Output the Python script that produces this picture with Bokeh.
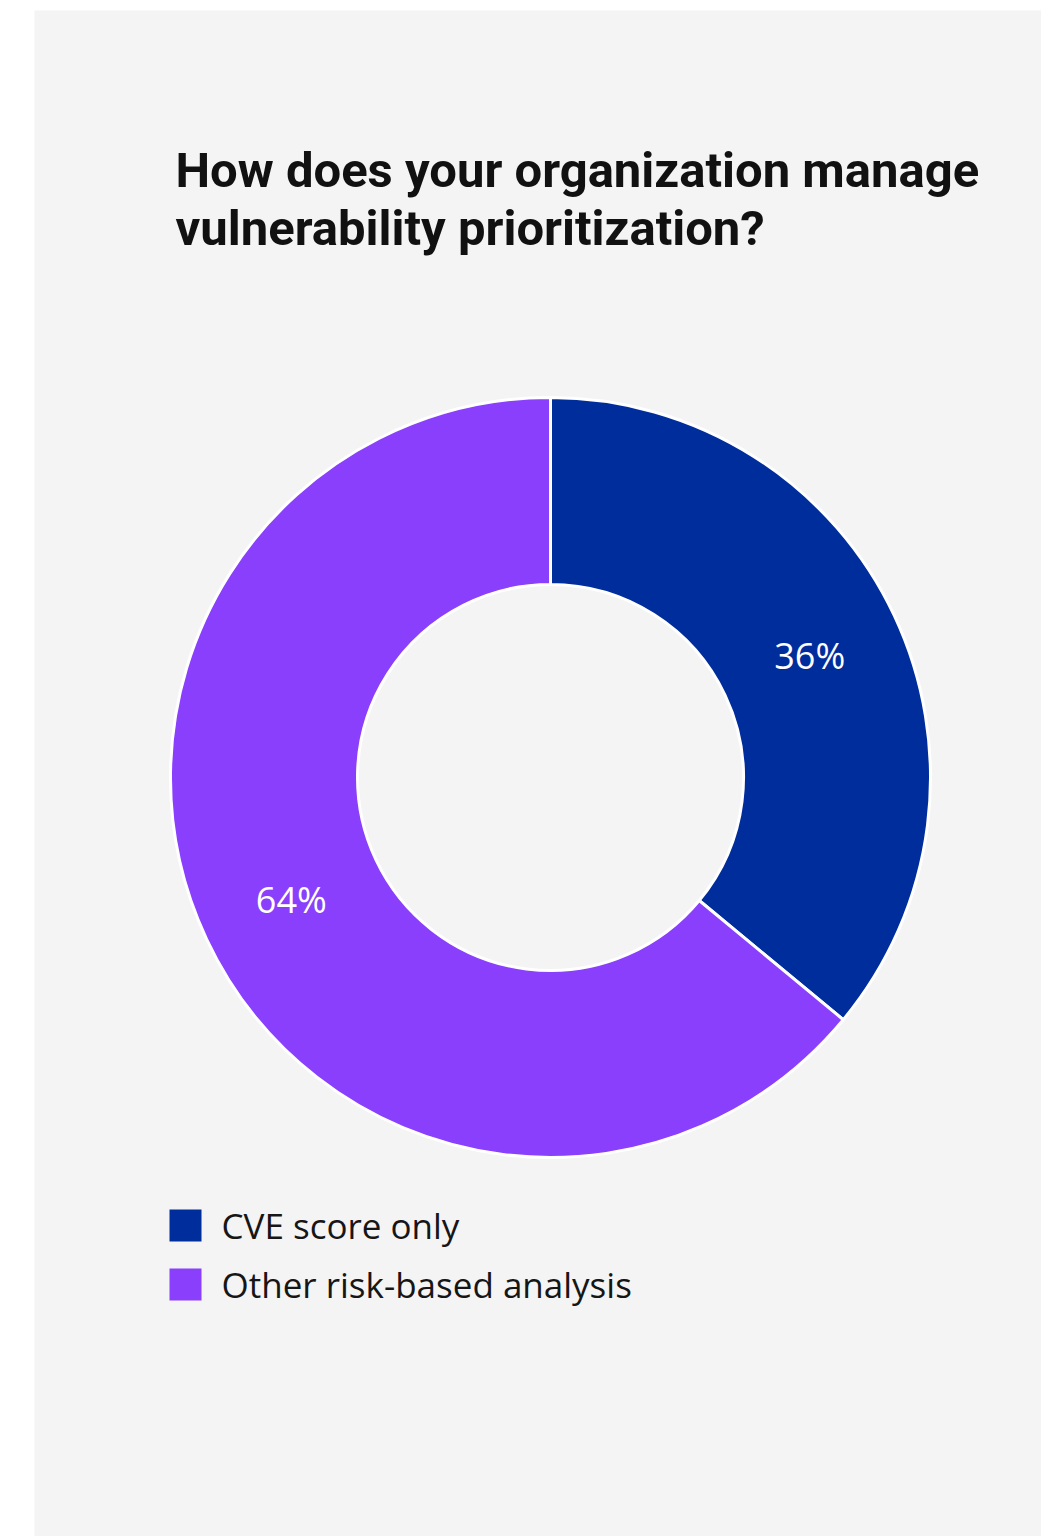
import math
from bokeh.plotting import figure
from bokeh.models import Range1d, ColumnDataSource, Label
from bokeh.core.properties import value
from bokeh.embed import file_html
from bokeh.resources import INLINE

# ---- data ----
categories = ["CVE score only", "Other risk-based analysis"]
values = [36, 64]
colors = ["#002d9c", "#8a3ffc"]
title_lines = ["How does your organization manage", "vulnerability prioritization?"]

# ---- layout (page pixel coordinates) ----
PAGE_H = 1536
def Y(py):
    return PAGE_H - py

cx, cy = 550, Y(777)
r_out, r_in = 380, 193

total = float(sum(values))
starts, ends, lx, ly, labels = [], [], [], [], []
cum = 0.0
for v in values:
    a_end = math.radians(90 - 360 * cum / total)
    cum += v
    a_start = math.radians(90 - 360 * cum / total)
    starts.append(a_start)
    ends.append(a_end)
    mid = (a_start + a_end) / 2
    rm = (r_out + r_in) / 2
    lx.append(cx + rm * math.cos(mid))
    ly.append(cy + rm * math.sin(mid))
    labels.append(f"{v}%")

src = ColumnDataSource(dict(cat=categories, val=values, color=colors,
                            start=starts, end=ends, lx=lx, ly=ly, label=labels))

p = figure(width=1041, height=1536, output_backend="svg", toolbar_location=None,
           x_range=Range1d(34, 1041), y_range=Range1d(0, 1526),
           x_axis_location=None, y_axis_location=None,
           min_border_left=34, min_border_top=10, min_border_right=0, min_border_bottom=0)
p.background_fill_color = "#f4f4f4"
p.border_fill_color = "white"
p.outline_line_color = None
p.grid.visible = False

p.annular_wedge(x=cx, y=cy, inner_radius=r_in, outer_radius=r_out,
                start_angle="start", end_angle="end", direction="anticlock",
                fill_color="color", line_color="white", line_width=3, source=src)

p.text(x="lx", y="ly", text="label", source=src, text_color="white",
       text_font=value("Open Sans"), text_font_size="36px",
       text_align="center", text_baseline="middle")

# title
for i, line in enumerate(title_lines):
    p.add_layout(Label(x=175, y=Y(170 + 58 * i), text=line,
                       text_font="Roboto", text_font_style="bold",
                       text_font_size="49px", text_color="#111111",
                       text_baseline="middle", text_align="left"))

# legend
n = len(categories)
leg_src = ColumnDataSource(dict(x=[185] * n, y=[Y(1225 + 59 * i) for i in range(n)],
                                color=colors, tx=[221] * n,
                                ty=[Y(1225 + 59 * i) for i in range(n)], cat=categories))
p.rect(x="x", y="y", width=32, height=32, fill_color="color", line_color=None, source=leg_src)
p.text(x="tx", y="ty", text="cat", source=leg_src, text_color="#161616",
       text_font=value("Open Sans"), text_font_size="35px",
       text_align="left", text_baseline="middle")

open("out.html", "w").write(file_html(p, INLINE))
